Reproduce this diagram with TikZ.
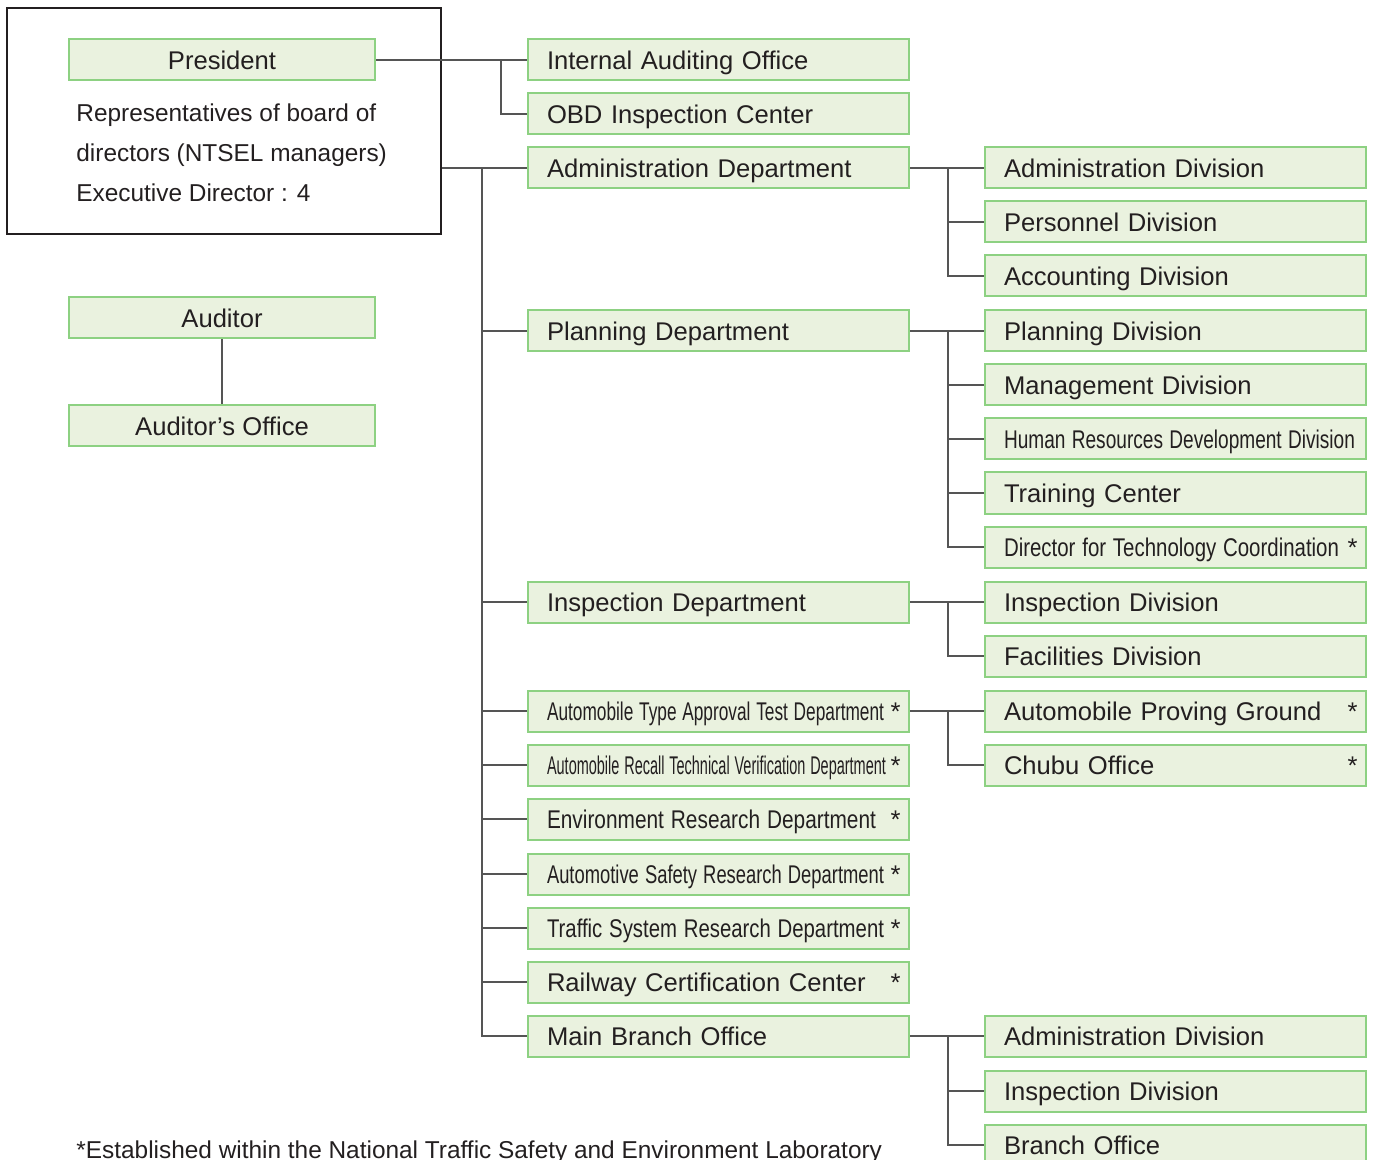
\documentclass[tikz,border=0pt]{standalone}
\usepackage{fontspec}
\setmainfont{Liberation Sans}
\usepackage{graphicx}

\definecolor{boxfill}{HTML}{EAF2DF}
\definecolor{boxline}{HTML}{8DD182}
\definecolor{linkgray}{HTML}{555555}
\definecolor{textgray}{HTML}{231F20}

\newcommand{\squeeze}[2]{\resizebox{#1}{\height}{#2}}

\tikzset{
  unit/.style={draw=boxline, fill=boxfill, line width=1pt, minimum height=20.5pt,
    inner ysep=0pt, text height=9.3pt, text depth=0pt,
    text=textgray, font=\fontsize{12.8}{15}\selectfont},
  dept/.style={unit, text width=171.5pt, inner xsep=9.5pt, align=left},
  headbox/.style={unit, minimum width=153pt},
  starred/.style={label={[anchor=north east, inner sep=0pt, xshift=-4.5pt, yshift=-6.5pt,
    text=textgray, font=\fontsize{12.8}{15}\selectfont]north east:*}},
  freetext/.style={anchor=base west, inner sep=0pt, text=textgray, font=\fontsize{12.2}{15}\selectfont},
  link/.style={draw=linkgray, line width=0.65pt},
}

\begin{document}
\begin{tikzpicture}[x=0.5pt,y=-0.5pt]
  \useasboundingbox (0,0) rectangle (1376,1160);

  % board of directors
  \node[draw=textgray, line width=0.75pt, minimum width=217pt, minimum height=113pt] (board) at (224,121) {};
  \node[headbox] (president) at (222,60) {President};
  \node[freetext] (rep1) at (76,122) {Representatives of board of};
  \node[freetext] (rep2) at (76,162) {directors (NTSEL managers)};
  \node[freetext] (rep3) at (76,202) {Executive Director : 4};

  \node[headbox] (auditor) at (222,318) {Auditor};
  \node[headbox] (auditoroffice) at (222,426) {Auditor’s Office};
  \draw[link] (auditor) -- (auditoroffice);

  % departments
  \node[dept] (iao) at (718.5,60) {Internal Auditing Office};
  \node[dept] (obd) at (718.5,114) {OBD Inspection Center};
  \node[dept] (admdept) at (718.5,168) {Administration Department};
  \node[dept] (plandept) at (718.5,331) {Planning Department};
  \node[dept] (inspdept) at (718.5,602) {Inspection Department};
  \node[dept,starred] (typedept) at (718.5,711) {\squeeze{168.5pt}{Automobile Type Approval Test Department}};
  \node[dept,starred] (recalldept) at (718.5,765) {\squeeze{169.5pt}{Automobile Recall Technical Verification Department}};
  \node[dept,starred] (envdept) at (718.5,819) {\squeeze{164.5pt}{Environment Research Department}};
  \node[dept,starred] (safetydept) at (718.5,874) {\squeeze{168.5pt}{Automotive Safety Research Department}};
  \node[dept,starred] (trafficdept) at (718.5,928) {\squeeze{168.5pt}{Traffic System Research Department}};
  \node[dept,starred] (railcenter) at (718.5,982) {Railway Certification Center};
  \node[dept] (mainbranch) at (718.5,1036) {Main Branch Office};

  % divisions
  \node[dept] (admdiv) at (1175.5,168) {Administration Division};
  \node[dept] (persdiv) at (1175.5,222) {Personnel Division};
  \node[dept] (accdiv) at (1175.5,276) {Accounting Division};
  \node[dept] (plandiv) at (1175.5,331) {Planning Division};
  \node[dept] (mgmtdiv) at (1175.5,385) {Management Division};
  \node[dept] (hrdiv) at (1175.5,439) {\squeeze{175.5pt}{Human Resources Development Division}};
  \node[dept] (trainctr) at (1175.5,493) {Training Center};
  \node[dept,starred] (techdir) at (1175.5,547) {\squeeze{167.5pt}{Director for Technology Coordination}};
  \node[dept] (inspdiv) at (1175.5,602) {Inspection Division};
  \node[dept] (facdiv) at (1175.5,656) {Facilities Division};
  \node[dept,starred] (provground) at (1175.5,711) {Automobile Proving Ground};
  \node[dept,starred] (chubu) at (1175.5,765) {Chubu Office};
  \node[dept] (mbadmdiv) at (1175.5,1036) {Administration Division};
  \node[dept] (mbinspdiv) at (1175.5,1091) {Inspection Division};
  \node[dept] (branchoffice) at (1175.5,1145) {Branch Office};

  \node[freetext, font=\fontsize{12.2}{14}\selectfont] (note) at (76,1158)
    {*Established within the National Traffic Safety and Environment Laboratory};

  % connectors
  \coordinate (topfork) at (501,60);
  \coordinate (trunk) at (482,168);
  \coordinate (subtrunk) at (948,168);

  \draw[link] (president.east) -- (iao.west);
  \draw[link] (topfork) |- (obd.west);
  \draw[link] (board.east |- admdept.west) -- (admdept.west);
  \draw[link] (trunk) |- (mainbranch.west);
  \foreach \d in {plandept,inspdept,typedept,recalldept,envdept,safetydept,trafficdept,railcenter}
    \draw[link] (trunk |- \d.west) -- (\d.west);

  \draw[link] (admdept.east) -- (admdiv.west);
  \draw[link] (subtrunk |- admdept.east) |- (accdiv.west);
  \draw[link] (subtrunk |- persdiv.west) -- (persdiv.west);

  \draw[link] (plandept.east) -- (plandiv.west);
  \draw[link] (subtrunk |- plandept.east) |- (techdir.west);
  \foreach \d in {mgmtdiv,hrdiv,trainctr}
    \draw[link] (subtrunk |- \d.west) -- (\d.west);

  \draw[link] (inspdept.east) -- (inspdiv.west);
  \draw[link] (subtrunk |- inspdept.east) |- (facdiv.west);

  \draw[link] (typedept.east) -- (provground.west);
  \draw[link] (subtrunk |- typedept.east) |- (chubu.west);

  \draw[link] (mainbranch.east) -- (mbadmdiv.west);
  \draw[link] (subtrunk |- mainbranch.east) |- (branchoffice.west);
  \draw[link] (subtrunk |- mbinspdiv.west) -- (mbinspdiv.west);
\end{tikzpicture}
\end{document}
